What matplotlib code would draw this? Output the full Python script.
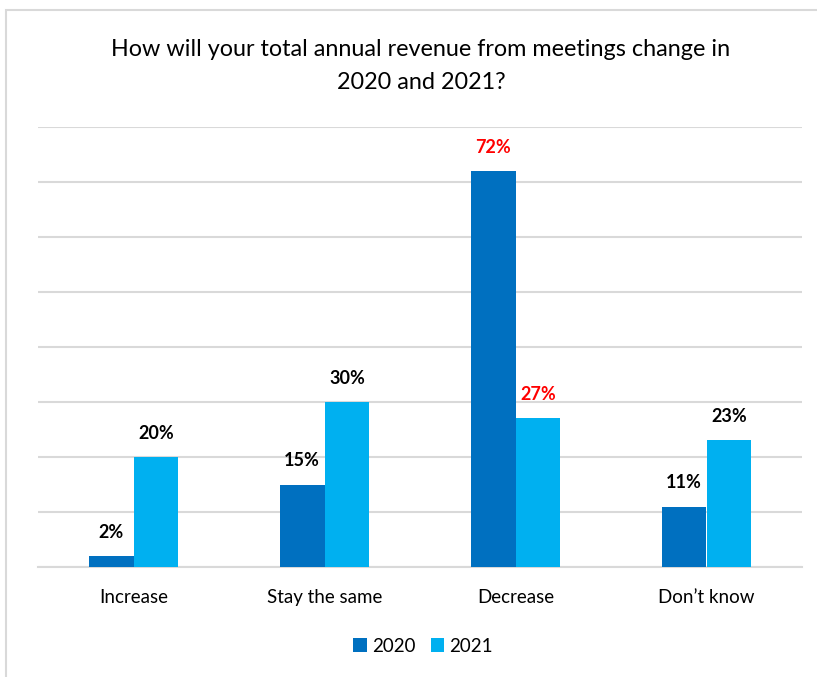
import matplotlib.pyplot as plt
from matplotlib.patches import Rectangle
import numpy as np

categories = ["Increase", "Stay the same", "Decrease", "Don\u2019t know"]
values_2020 = [2, 15, 72, 11]
values_2021 = [20, 30, 27, 23]
label_colors_2020 = ["black", "black", "red", "black"]
label_colors_2021 = ["black", "black", "red", "black"]

plt.rcParams['font.family'] = ['Lato', 'DejaVu Sans']

W, H = 817, 677
fig = plt.figure(figsize=(W / 100, H / 100), dpi=100)
ax = fig.add_axes([38 / W, 1 - 567 / H, 764 / W, 440 / H])

# cadre gris autour du graphique
fig.patches.append(Rectangle((6 / W, -0.1), 1.2, 1 - 10 / H + 0.1, transform=fig.transFigure,
                             fill=False, edgecolor="#d9d9d9", linewidth=1.5))

x = np.arange(len(categories))
w = 0.235
b1 = ax.bar(x - w / 2, values_2020, w, color="#0070C0", label="2020", zorder=3)
b2 = ax.bar(x + w / 2, values_2021, w, color="#00B0F0", label="2021", zorder=3)

for bars, vals, cols in [(b1, values_2020, label_colors_2020), (b2, values_2021, label_colors_2021)]:
    for rect, v, c in zip(bars, vals, cols):
        ax.annotate(f"{v}%", (rect.get_x() + rect.get_width() / 2, v), xytext=(0, 11),
                    textcoords="offset points", ha="center", va="bottom",
                    fontsize=13, fontweight="bold", color=c)

ax.set_xlim(-0.5, 3.5)
ax.set_ylim(0, 80)
ax.set_yticks(np.arange(0, 81, 10))
ax.yaxis.grid(True, color="#d9d9d9", linewidth=1.5, zorder=0)
ax.tick_params(axis="y", left=False, labelleft=False)
ax.tick_params(axis="x", length=0, pad=16, labelsize=13.5)
ax.set_xticks(x)
ax.set_xticklabels(categories)
for s in ["top", "right", "left"]:
    ax.spines[s].set_visible(False)
ax.spines["bottom"].set_color("#d9d9d9")
ax.spines["bottom"].set_linewidth(1.5)

fig.text(421 / W, 1 - 66 / H, "How will your total annual revenue from meetings change in\n2020 and 2021?",
         ha="center", va="center", fontsize=16.8, linespacing=1.65)

fig.legend(loc="center", bbox_to_anchor=(0.518, 1 - 646 / H), ncol=2, frameon=False,
           fontsize=13.5, handlelength=0.7, handleheight=0.7, handletextpad=0.3, columnspacing=0.8)

fig.savefig("out.png", dpi=100)
